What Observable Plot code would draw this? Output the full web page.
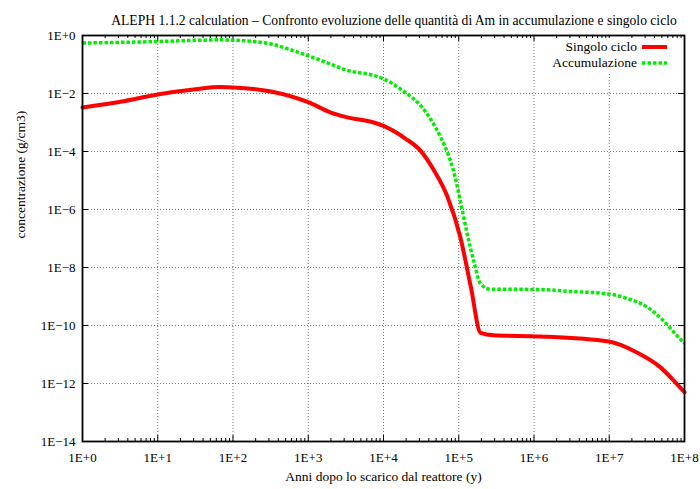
<!DOCTYPE html>
<html>
<head>
<meta charset="utf-8">
<script src="https://cdn.jsdelivr.net/npm/d3@7"></script>
<script src="https://cdn.jsdelivr.net/npm/@observablehq/plot@0.6"></script>
<style>
  html, body { margin: 0; padding: 0; background: #fff; }
  #wrap { position: relative; width: 700px; height: 489px; font-family: "Liberation Serif", "DejaVu Serif", serif; }
  .leg { position: absolute; font-size: 13.5px; color: #000; white-space: nowrap; background: #fff; padding: 0 1px; }
</style>
</head>
<body>
<div id="wrap"></div>
<script>
// ---- data ----
const titleText = "ALEPH 1.1.2 calculation – Confronto evoluzione delle quantità di Am in accumulazione e singolo ciclo";
const xLabel = "Anni dopo lo scarico dal reattore (y)";
const yLabel = "concentrazione (g/cm3)";

const seriesNames = ["Singolo ciclo", "Accumulazione"];

const yearsSingolo = [1, 3.2, 10, 32, 68, 100, 320, 1000, 2000, 3300, 7400, 1e4, 1.95e4, 3.1e4, 4.7e4, 7.1e4, 1.05e5, 1.45e5, 1.95e5, 2.9e5, 1.23e6, 9.8e6, 2.3e7, 4.8e7, 7.2e7, 1e8];
const valuesSingolo = [3.3e-3, 5.2e-3, 9.3e-3, 1.4e-2, 1.66e-2, 1.62e-2, 1.17e-2, 5.0e-3, 2.2e-3, 1.5e-3, 1.0e-3, 7.6e-4, 2.8e-4, 1.07e-4, 2.2e-5, 2.7e-6, 1.1e-7, 2.1e-9, 5.6e-11, 4.6e-11, 4.2e-11, 2.8e-11, 1.2e-11, 3.6e-12, 1.26e-12, 5.0e-13];

const yearsAccum = [1, 10, 32, 68, 100, 320, 630, 1000, 2200, 3300, 7400, 1e4, 2.0e4, 3.1e4, 4.2e4, 5.75e4, 7.4e4, 8.5e4, 1.05e5, 1.29e5, 1.58e5, 1.95e5, 2.6e5, 1.23e6, 3.0e6, 9.8e6, 1.74e7, 3.2e7, 5.2e7, 7.2e7, 1e8];
const valuesAccum = [0.55, 0.62, 0.68, 0.71, 0.69, 0.51, 0.30, 0.20, 9.3e-2, 6.3e-2, 4.2e-2, 3.2e-2, 1.02e-2, 3.9e-3, 1.35e-3, 3.1e-4, 6.8e-5, 2.2e-5, 2.0e-6, 1.5e-7, 1.7e-8, 2.75e-9, 1.8e-9, 1.74e-9, 1.5e-9, 1.23e-9, 8.5e-10, 4.3e-10, 1.5e-10, 5.9e-11, 2.4e-11];

const xTicks = [1, 1e1, 1e2, 1e3, 1e4, 1e5, 1e6, 1e7, 1e8];
const xTickLabels = ["1E+0", "1E+1", "1E+2", "1E+3", "1E+4", "1E+5", "1E+6", "1E+7", "1E+8"];
const yTicks = [1, 1e-2, 1e-4, 1e-6, 1e-8, 1e-10, 1e-12, 1e-14];
const yTickLabels = ["1E+0", "1E−2", "1E−4", "1E−6", "1E−8", "1E−10", "1E−12", "1E−14"];

// ---- build ----
const singolo = yearsSingolo.map((x, i) => ({x, y: valuesSingolo[i]}));
const accum = yearsAccum.map((x, i) => ({x, y: valuesAccum[i]}));
const xMinor = [];
for (let e = 0; e < 8; e++) for (let m = 2; m <= 9; m++) xMinor.push(m * Math.pow(10, e));

const W = 700, H = 489;
const mt = 35, mb = 48, ml = 82, mr = 16;
const ph = H - mt - mb;
const pw = W - ml - mr;
const font = "Liberation Serif, DejaVu Serif, serif";

const chart = Plot.plot({
  width: W, height: H,
  marginTop: mt, marginBottom: mb, marginLeft: ml, marginRight: mr,
  style: {fontFamily: font, fontSize: "13px", background: "#fff", color: "#000"},
  x: {type: "log", domain: [1, 1e8]},
  y: {type: "log", domain: [1e-14, 1]},
  marks: [
    // grid
    Plot.ruleX(xTicks.slice(1, -1), {x: d => d, stroke: "#777", strokeDasharray: "1,2", strokeWidth: 1}),
    Plot.ruleY(yTicks.slice(1, -1), {y: d => d, stroke: "#777", strokeDasharray: "1,2", strokeWidth: 1}),
    // ticks (inward)
    Plot.tickX(xTicks, {x: d => d, insetTop: ph - 6, stroke: "#000"}),
    Plot.tickX(xMinor, {x: d => d, insetTop: ph - 3, stroke: "#000"}),
    Plot.tickX(xTicks, {x: d => d, insetBottom: ph - 6, stroke: "#000"}),
    Plot.tickX(xMinor, {x: d => d, insetBottom: ph - 3, stroke: "#000"}),
    Plot.tickY(yTicks, {y: d => d, insetRight: pw - 6, stroke: "#000"}),
    Plot.tickY(yTicks, {y: d => d, insetLeft: pw - 6, stroke: "#000"}),
    // axes labels
    Plot.axisX({ticks: xTicks, tickFormat: d => xTickLabels[xTicks.indexOf(d)], tickSize: 0, tickPadding: 11, label: null, fontSize: 13}),
    Plot.axisY({ticks: yTicks, tickFormat: d => yTickLabels[yTicks.findIndex(t => Math.abs(Math.log10(t) - Math.log10(d)) < 1e-6)], tickSize: 0, tickPadding: 7, label: null, fontSize: 13}),
    // series
    Plot.line(accum, {x: "x", y: "y", stroke: "#00ee00", strokeWidth: 3.5, strokeDasharray: "3.5,2", curve: "monotone-x", strokeLinecap: "butt"}),
    Plot.line(singolo, {x: "x", y: "y", stroke: "#ff0000", strokeWidth: 4, curve: "monotone-x"}),
    // frame
    Plot.frame({stroke: "#000", strokeWidth: 1.8}),
    // texts
    Plot.text([titleText], {text: d => d, frameAnchor: "top", dy: -20, dx: 10.5, fontSize: 13.6}),
    Plot.text([xLabel], {text: d => d, frameAnchor: "bottom", dy: 39, fontSize: 13.5}),
    Plot.text([yLabel], {text: d => d, frameAnchor: "left", dx: -62, rotate: -90, fontSize: 13.5})
  ]
});

const wrap = document.getElementById("wrap");
wrap.appendChild(chart);

// legend (inside top right)
const legendColors = ["#ff0000", "#00ee00"];
const legendDash = [null, "3.5,2"];
const legendWidths = [4, 3.5];
seriesNames.forEach((name, i) => {
  const cy = 47 + i * 16;
  const t = document.createElement("div");
  t.className = "leg";
  t.textContent = name;
  t.style.right = (W - 638) + "px";
  t.style.top = (cy - 9) + "px";
  t.style.lineHeight = "18px";
  wrap.appendChild(t);
  const svgNS = "http://www.w3.org/2000/svg";
  const s = document.createElementNS(svgNS, "svg");
  s.setAttribute("width", 26); s.setAttribute("height", 8);
  s.style.position = "absolute"; s.style.left = "642px"; s.style.top = (cy - 4) + "px";
  const l = document.createElementNS(svgNS, "line");
  l.setAttribute("x1", 0); l.setAttribute("x2", 25); l.setAttribute("y1", 4); l.setAttribute("y2", 4);
  l.setAttribute("stroke", legendColors[i]); l.setAttribute("stroke-width", legendWidths[i]);
  if (legendDash[i]) l.setAttribute("stroke-dasharray", legendDash[i]);
  s.appendChild(l);
  wrap.appendChild(s);
});
</script>
</body>
</html>
